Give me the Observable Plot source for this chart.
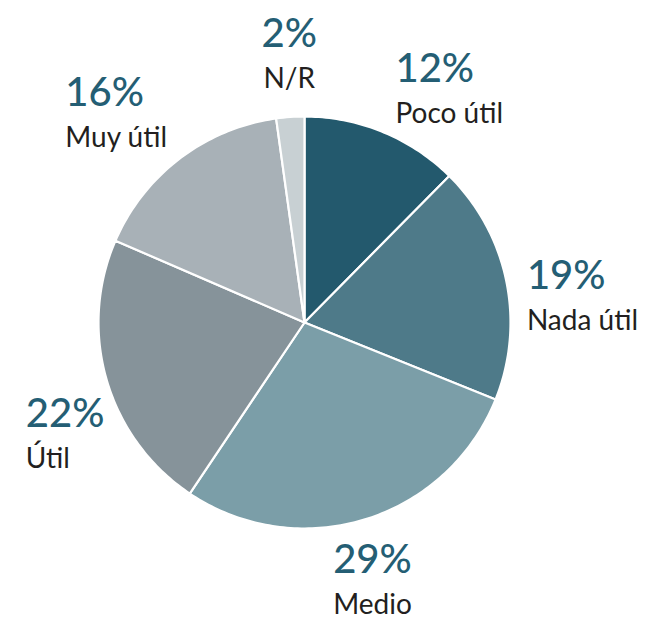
<!DOCTYPE html>
<html><head><meta charset="utf-8">
<script src="https://cdn.jsdelivr.net/npm/d3@7"></script>
<script src="https://cdn.jsdelivr.net/npm/@observablehq/plot@0.6"></script>
<style>html,body{margin:0;padding:0;background:#fff}</style>
</head><body><div id="chart"></div>
<script>
// ---- data (slice sizes; labels as printed) ----
const categories = ["Poco útil", "Nada útil", "Medio", "Útil", "Muy útil", "N/R"];
const values = [12.4, 18.7, 28.3, 22.1, 16.3, 2.2];
const percentLabels = ["12%", "19%", "29%", "22%", "16%", "2%"];
const colors = ["#23596d", "#4e7a89", "#7b9ea8", "#86939a", "#a8b1b7", "#c8d0d3"];

// ---- layout ----
const W = 661, H = 621, cx = 304, cy = 322, R = 206, gap = 15;
const pctFont = "500 40px Lato", lblFont = "400 28px Lato";
const pctSize = 40, lblSize = 28, lineGap = 41, capH = 29;
// small hand-placement nudges (px) for labels, as in the original design
const nudge = {"Poco útil": [7, 5], "Nada útil": [6, 17], "Medio": [3, 10], "Útil": [12, 48], "Muy útil": [-3, 0], "N/R": [0, -14]};

const pie = d3.pie().sort(null).value(d => d.value);
const arcs = pie(categories.map((c, i) => ({name: c, value: values[i], pct: percentLabels[i]})));

const poly = [];
arcs.forEach(a => {
  const n = Math.max(2, Math.ceil((a.endAngle - a.startAngle) / (Math.PI / 180)));
  poly.push({name: a.data.name, x: 0, y: 0});
  for (let k = 0; k <= n; k++) {
    const t = a.startAngle + (a.endAngle - a.startAngle) * k / n;
    poly.push({name: a.data.name, x: Math.sin(t), y: Math.cos(t)});
  }
});

const ctx = document.createElement("canvas").getContext("2d");
const tw = (s, f) => { ctx.font = f; return ctx.measureText(s).width; };
const toX = px => (px - cx) / R, toY = py => (cy - py) / R;

const pctRows = [], lblRows = [];
arcs.forEach(a => {
  const t = (a.startAngle + a.endAngle) / 2, s = Math.sin(t), c = Math.cos(t);
  const px = cx + (R + gap) * s, py = cy - (R + gap) * c;
  const fx = s > 0.3 ? 0 : s < -0.3 ? 1 : 0.5;
  const wP = tw(a.data.pct, pctFont), wL = tw(a.data.name, lblFont), w = Math.max(wP, wL);
  let pBase;
  if (c > 0.3) pBase = py - lineGap;            // block above anchor
  else if (c < -0.3) pBase = py + capH;         // block below anchor
  else pBase = py - (capH + lineGap) / 2 + capH; // centred
  const [nx, ny] = nudge[a.data.name];
  let xP, xL;
  if (fx === 0.5) { xP = px - wP / 2; xL = px - wL / 2; }
  else { xP = xL = px - fx * w; }
  pctRows.push({x: toX(xP + nx), y: toY(pBase + ny), text: a.data.pct});
  lblRows.push({x: toX(xL + nx), y: toY(pBase + lineGap + ny), text: a.data.name});
});

const chart = Plot.plot({
  width: W, height: H,
  marginLeft: cx - R, marginRight: W - cx - R, marginTop: cy - R, marginBottom: H - cy - R,
  x: {domain: [-1, 1], axis: null},
  y: {domain: [-1, 1], axis: null},
  color: {domain: categories, range: colors},
  style: {background: "#fff", overflow: "visible"},
  marks: [
    Plot.line(poly, {x: "x", y: "y", z: "name", fill: "name", stroke: "#fff", strokeWidth: 2.2, strokeLinejoin: "round", curve: "linear-closed"}),
    Plot.text(pctRows, {x: "x", y: "y", text: "text", textAnchor: "start", lineAnchor: "bottom", fontSize: pctSize, fontWeight: 500, fontFamily: "Lato", fill: "#245e74"}),
    Plot.text(lblRows, {x: "x", y: "y", text: "text", textAnchor: "start", lineAnchor: "bottom", fontSize: lblSize, fontWeight: 400, fontFamily: "Lato", fill: "#231f20"})
  ]
});
document.getElementById("chart").appendChild(chart);
</script>
</body></html>
